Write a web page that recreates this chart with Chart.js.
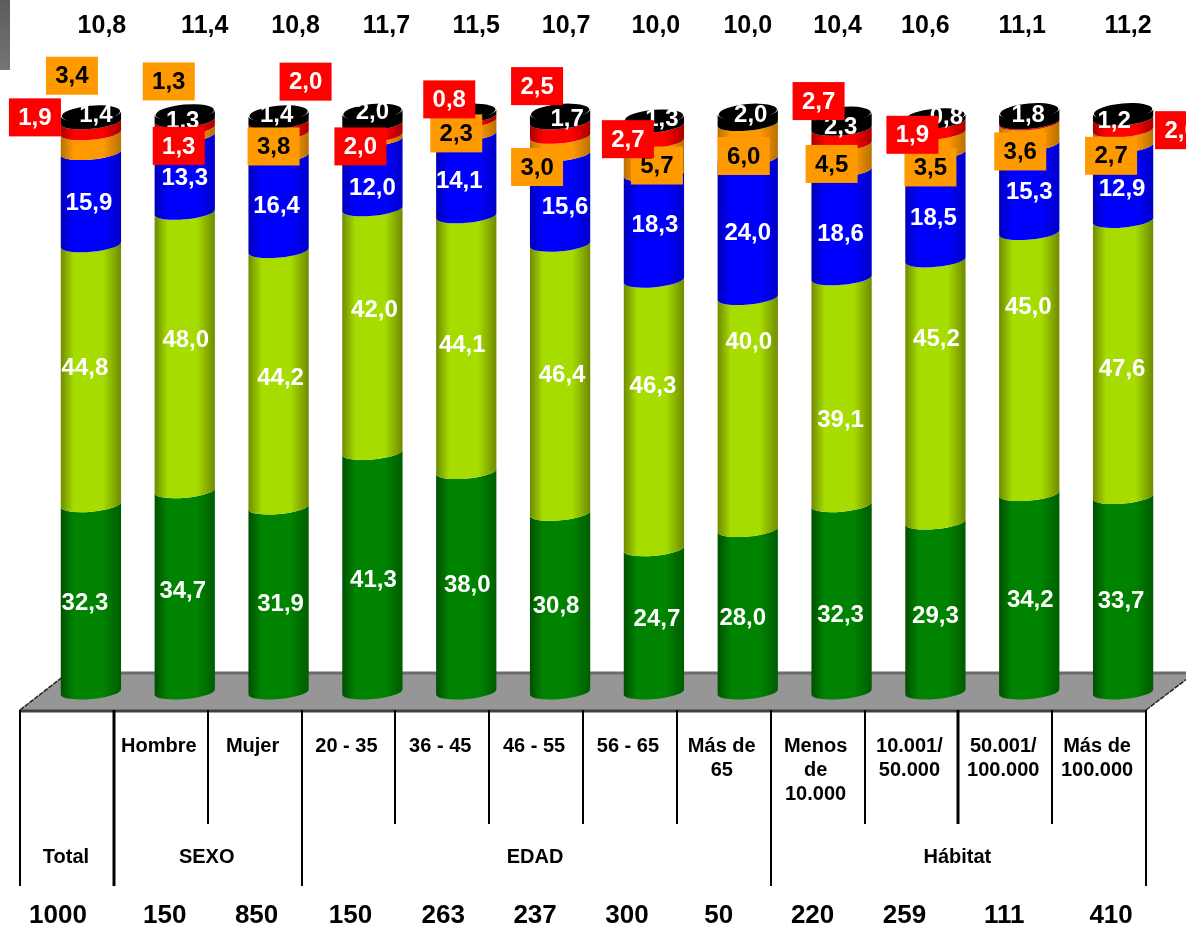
<!DOCTYPE html>
<html lang="es">
<head>
<meta charset="utf-8">
<title>Gráfico</title>
<script src="https://cdn.jsdelivr.net/npm/chart.js@4"></script>
<style>html,body{margin:0;padding:0;background:#fff}canvas{display:block}</style>
</head>
<body>
<canvas id="c" width="1186" height="926"></canvas>
<script>
// ---------- data ----------
const categories = ['Total','Hombre','Mujer','20 - 35','36 - 45','46 - 55','56 - 65','Más de 65','Menos de 10.000','10.001/ 50.000','50.001/ 100.000','Más de 100.000'];
const seriesGreen  = [32.3,34.7,31.9,41.3,38.0,30.8,24.7,28.0,32.3,29.3,34.2,33.7];
const seriesLime   = [44.8,48.0,44.2,42.0,44.1,46.4,46.3,40.0,39.1,45.2,45.0,47.6];
const seriesBlue   = [15.9,13.3,16.4,12.0,14.1,15.6,18.3,24.0,18.6,18.5,15.3,12.9];
const seriesOrange = [3.4,1.3,3.8,0.7,2.3,3.0,5.7,6.0,4.5,3.5,3.6,2.7];
const seriesRed    = [1.9,1.3,2.0,2.0,0.8,2.5,2.7,0,2.7,1.9,0.2,2.0];
const seriesBlack  = [1.4,1.3,1.4,2.0,0.7,1.7,1.3,2.0,2.3,0.8,1.8,1.2];
const topValues    = ['10,8','11,4','10,8','11,7','11,5','10,7','10,0','10,0','10,4','10,6','11,1','11,2'];
const sampleSizes  = ['1000','150','850','150','263','237','300','50','220','259','111','410'];
const categoryLines = [[],['Hombre'],['Mujer'],['20 - 35'],['36 - 45'],['46 - 55'],['56 - 65'],['Más de','65'],['Menos','de','10.000'],['10.001/','50.000'],['50.001/','100.000'],['Más de','100.000']];
const groupNames   = ['Total','SEXO','EDAD','Hábitat'];
const groupSpans   = [[0,1],[1,3],[3,8],[8,12]];

// ---------- layout only ----------
const shades = [
  ['#004f00','#008300','#005c00'],
  ['#6f8a00','#a6dc00','#6f8a00'],
  ['#0000b8','#0000ff','#0000c8'],
  ['#b87000','#ff9900','#b87000'],
  ['#a80000','#ff0000','#a80000'],
  ['#000000','#000000','#000000']
];
// label offset [dx, dy] from the middle of each bar segment; null = no label
const nudges = [
 [[-6,6],[-2,1],[2,6],[1,9],[1,5],[-4,5],[3,0],[-5,9],[-1,18],[0,10],[1,9],[-2,8]],
 [[-6,-5],[1,-10],[2,1],[2,-19],[-4,3],[2,-2],[-1,-27],[1,-70],[-1,30],[1,-51],[-1,-55],[-1,12]],
 [[-2,6],[0,6],[-2,4],[0,15],[-7,7],[5,9],[1,-1],[0,6],[-1,11],[-2,13],[0,5],[-1,7]],
 [[-19,-65],[-16,-48],[-5,4],null,[-10,8],[-23,24],[3,10],[-4,17],[-10,9],[-5,27],[-9,20],[-12,20]],
 [[-56,-8],[-6,24],[27,-44],[-12,19],[-17,-17],[-23,-41],[-26,8],null,[-23,-33],[-23,10],null,[58,8]],
 [[5,-1],[-2,6],[-2,-1],[0,-4],null,[7,3],[8,-1],[3,-1],[-1,7],[11,-1],[-1,0],[-9,7]]
];
const topDx = [11,20,17,14,10,6,2,0,-4,-10,-7,5];
const bottomDx = [-33,-20,-22,-22,-23,-25,-27,-29,-29,-31,-25,-12];
const FONT = '"Liberation Sans", Arial, sans-serif';
const RX_B = 7, ROT = -0.09, GRID_SHIFT = 24;

function comma(v){ return v.toFixed(1).replace('.',','); }

const cylinderPlugin = {
  id:'cylinders',
  beforeDatasetsDraw(chart){
    const ctx = chart.ctx, xs = chart.scales.x, top = chart.chartArea.bottom;
    const cw = xs.getPixelForValue(1) - xs.getPixelForValue(0);
    const lx = i => xs.getPixelForValue(0) - cw/2 + cw*i - GRID_SHIFT;
    const frontY = top + 18, backY = top - 20;
    const n = categories.length;
    const fl = lx(0), fr = lx(n);
    // grey corner block
    const g0 = ctx.createLinearGradient(0,0,0,70);
    g0.addColorStop(0,'#5c5c5c'); g0.addColorStop(1,'#757575');
    ctx.fillStyle = g0; ctx.fillRect(0,0,10,70);
    // floor
    ctx.fillStyle = '#969696';
    ctx.beginPath();
    ctx.moveTo(fl,frontY); ctx.lineTo(fl+49,backY); ctx.lineTo(fr+50,backY); ctx.lineTo(fr,frontY); ctx.closePath(); ctx.fill();
    ctx.strokeStyle = '#6b6b6b'; ctx.lineWidth = 3;
    ctx.beginPath(); ctx.moveTo(fl+49,backY+1); ctx.lineTo(1186,backY+1); ctx.stroke();
    ctx.strokeStyle = '#404040'; ctx.lineWidth = 3;
    ctx.beginPath(); ctx.moveTo(fl,frontY+1); ctx.lineTo(fr,frontY+1); ctx.stroke();
    ctx.strokeStyle = '#222'; ctx.lineWidth = 1.5; ctx.setLineDash([5,1]);
    ctx.beginPath(); ctx.moveTo(fl,frontY); ctx.lineTo(fl+49,backY);
    ctx.moveTo(fr,frontY); ctx.lineTo(fr+50,backY); ctx.stroke();
    ctx.setLineDash([]);
    // table grid
    ctx.strokeStyle = '#000';
    const longLines = new Set([0,1,3,8,12]);
    for(let i=0;i<=n;i++){
      ctx.lineWidth = (i===1||i===10)?3:2;
      ctx.beginPath();
      ctx.moveTo(Math.round(lx(i)),frontY);
      ctx.lineTo(Math.round(lx(i)),longLines.has(i)?frontY+176:frontY+114);
      ctx.stroke();
    }
    // cylinders
    chart.data.datasets.forEach((ds,d)=>{
      const meta = chart.getDatasetMeta(d);
      meta.data.forEach(bar=>{
        const {x,y,base,width} = bar.getProps(['x','y','base','width'],false);
        if(Math.abs(base-y)<0.01) return;
        const a = width/2;
        const g = ctx.createLinearGradient(x-a,0,x+a,0);
        const c = shades[d];
        g.addColorStop(0,c[0]); g.addColorStop(0.22,c[1]); g.addColorStop(0.7,c[1]); g.addColorStop(1,c[2]);
        ctx.fillStyle = g;
        ctx.beginPath();
        ctx.ellipse(x,base,a,RX_B,ROT,0,Math.PI,false);
        ctx.ellipse(x,y,a,RX_B,ROT,Math.PI,0,true);
        ctx.closePath(); ctx.fill();
      });
    });
    // top caps
    const last = chart.getDatasetMeta(chart.data.datasets.length-1);
    last.data.forEach(bar=>{
      const {x,y,width} = bar.getProps(['x','y','width'],false);
      ctx.fillStyle = '#000';
      ctx.beginPath(); ctx.ellipse(x,y,width/2-1,RX_B+1,ROT,0,Math.PI*2); ctx.fill();
    });
  },
  beforeDatasetDraw(){ return false; },
  afterDatasetsDraw(chart){
    const ctx = chart.ctx, xs = chart.scales.x;
    ctx.textAlign='center'; ctx.textBaseline='middle';
    const bars = d => chart.getDatasetMeta(d).data;
    const order = [0,1,2,5,3,4];
    order.forEach(d=>{
      bars(d).forEach((bar,i)=>{
        const nu = nudges[d][i];
        if(!nu) return;
        const {x,y,base} = bar.getProps(['x','y','base'],false);
        const cx = x+nu[0], cy = (y+base)/2+nu[1]-2;
        const text = comma(chart.data.datasets[d].data[i]);
        if(d===3||d===4){
          ctx.fillStyle = d===3?'#ff9900':'#ff0000';
          ctx.fillRect(cx-26,cy-19,52,38);
        }
        ctx.fillStyle = d===3?'#000':'#fff';
        ctx.font = 'bold 24px '+FONT;
        ctx.fillText(text,cx,cy+1);
      });
    });
    // rows above and below
    const cw = xs.getPixelForValue(1) - xs.getPixelForValue(0);
    const lx = i => xs.getPixelForValue(0) - cw/2 + cw*i - GRID_SHIFT;
    ctx.fillStyle='#000';
    ctx.font='bold 25px '+FONT;
    topValues.forEach((t,i)=>ctx.fillText(t,xs.getPixelForValue(i)+topDx[i],26));
    ctx.font='bold 26px '+FONT;
    sampleSizes.forEach((t,i)=>ctx.fillText(t,xs.getPixelForValue(i)+bottomDx[i],916));
    ctx.font='bold 20px '+FONT;
    categoryLines.forEach((lines,i)=>{
      const cx=(lx(i)+lx(i+1))/2-2;
      lines.forEach((l,k)=>ctx.fillText(l,cx,746+k*24));
    });
    groupNames.forEach((g,k)=>{
      const [a,b]=groupSpans[k];
      ctx.fillText(g,(lx(a)+lx(b))/2-1,857);
    });
  }
};

const seriesList = [seriesGreen,seriesLime,seriesBlue,seriesOrange,seriesRed,seriesBlack];
const seriesColors = ['#008000','#a2d600','#0000ff','#ff9900','#ff0000','#000000'];
new Chart(document.getElementById('c'),{
  type:'bar',
  data:{
    labels:categories,
    datasets:seriesList.map((data,i)=>({data,backgroundColor:seriesColors[i],borderWidth:0,categoryPercentage:1,barPercentage:0.645}))
  },
  options:{
    responsive:false,
    animation:false,
    layout:{padding:{left:44,right:16,top:112,bottom:234}},
    plugins:{legend:{display:false},tooltip:{enabled:false}},
    scales:{
      x:{stacked:true,display:false},
      y:{stacked:true,display:false,min:0,max:100}
    }
  },
  plugins:[cylinderPlugin]
});
</script>
</body>
</html>
